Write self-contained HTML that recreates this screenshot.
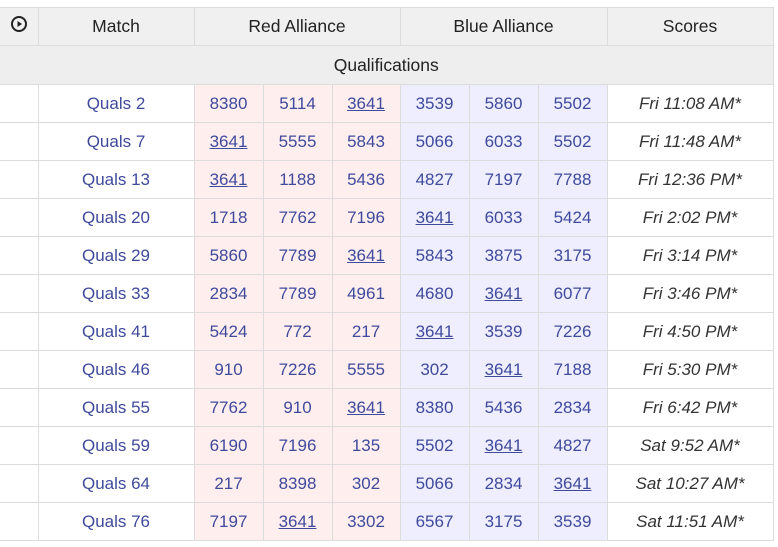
<!DOCTYPE html>
<html><head><meta charset="utf-8">
<style>
html,body{margin:0;padding:0;background:#fff;width:778px;height:547px;overflow:hidden}
table{position:absolute;left:0;top:7px;border-collapse:collapse;table-layout:fixed;font-family:"Liberation Sans",sans-serif;font-size:17px}
td,th{border:1px solid #dcdcdc;text-align:center;padding:0;height:37px}
th{background:#f0f0f0;color:#222;font-weight:normal;font-size:17.5px}
td{color:#3f4a9c}
.r{background:#ffeeee}
.b{background:#eeeeff}
.s{color:#333;font-style:italic}
.q{background:#eeeeee;color:#222;font-size:17.5px;height:38px}
u{text-decoration:underline}
tr.first td{border-left:none}
</style></head><body>
<table>
<colgroup><col style="width:38px"><col style="width:156px"><col style="width:69px"><col style="width:69px"><col style="width:68px"><col style="width:69px"><col style="width:69px"><col style="width:69px"><col style="width:166px"></colgroup>
<thead><tr>
<th style="border-left:none"><svg width="18" height="18" viewBox="0 0 18 18"><circle cx="9" cy="9" r="7" fill="none" stroke="#222" stroke-width="2"/><polygon points="7.5,6 12,9 7.5,12" fill="#222"/></svg></th>
<th>Match</th>
<th colspan="3">Red Alliance</th>
<th colspan="3">Blue Alliance</th>
<th>Scores</th>
</tr></thead>
<tbody id="tb">
<tr><td colspan="9" class="q" style="border-left:none">Qualifications</td></tr>
</tbody></table>
<script>
const matches=["Quals 2","Quals 7","Quals 13","Quals 20","Quals 29","Quals 33","Quals 41","Quals 46","Quals 55","Quals 59","Quals 64","Quals 76"];
const red=[[8380,5114,3641],[3641,5555,5843],[3641,1188,5436],[1718,7762,7196],[5860,7789,3641],[2834,7789,4961],[5424,772,217],[910,7226,5555],[7762,910,3641],[6190,7196,135],[217,8398,302],[7197,3641,3302]];
const blue=[[3539,5860,5502],[5066,6033,5502],[4827,7197,7788],[3641,6033,5424],[5843,3875,3175],[4680,3641,6077],[3641,3539,7226],[302,3641,7188],[8380,5436,2834],[5502,3641,4827],[5066,2834,3641],[6567,3175,3539]];
const times=["Fri 11:08 AM*","Fri 11:48 AM*","Fri 12:36 PM*","Fri 2:02 PM*","Fri 3:14 PM*","Fri 3:46 PM*","Fri 4:50 PM*","Fri 5:30 PM*","Fri 6:42 PM*","Sat 9:52 AM*","Sat 10:27 AM*","Sat 11:51 AM*"];
const tb=document.getElementById('tb');
matches.forEach((m,i)=>{
  const tr=document.createElement('tr');
  
  
  const c0=document.createElement('td');c0.style.borderLeft='none';
  
  
  tr.appendChild(c0);
  const c1=document.createElement('td');c1.textContent=m;
  
  
  tr.appendChild(c1);
  [[red[i],'r'],[blue[i],'b']].forEach(([arr,cls])=>arr.forEach(t=>{
    const c=document.createElement('td');c.className=cls;
    c.innerHTML=t===3641?'<u>'+t+'</u>':t;
    
    
    tr.appendChild(c);
  }));
  const cs=document.createElement('td');cs.className='s';cs.textContent=times[i];
  
  
  tr.appendChild(cs);
  tb.appendChild(tr);
});
</script>
</body></html>
